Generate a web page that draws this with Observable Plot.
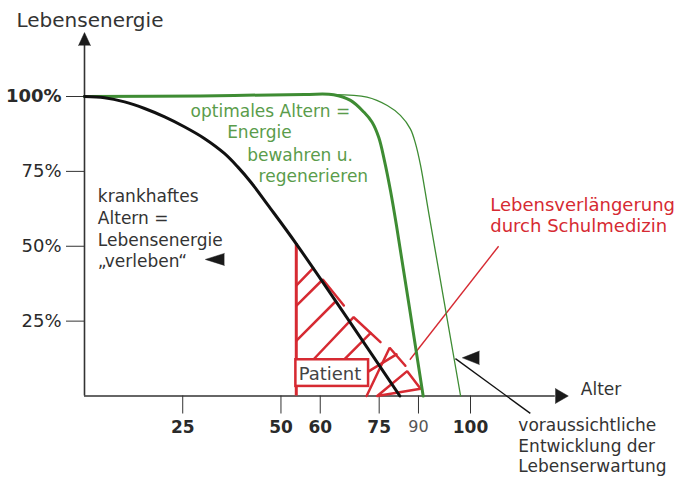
<!DOCTYPE html>
<html><head><meta charset="utf-8">
<script src="https://cdn.jsdelivr.net/npm/d3@7"></script>
<script src="https://cdn.jsdelivr.net/npm/@observablehq/plot@0.6"></script>
<style>body{margin:0;background:#fff;} svg{font-family:"DejaVu Sans",sans-serif;}</style>
</head><body><div id="chart"></div>
<script>
// ---- data (age in years, Lebensenergie in %) ----
const blackAge    = [0, 5.1, 10.2, 15.3, 20.4, 25.4, 30.5, 35.6, 39.0, 42.4, 46.6, 53.9, 82.9];
const blackEnergy = [100, 99.6, 98.2, 96.0, 93.2, 89.9, 86.0, 81.0, 76.5, 71.3, 63.9, 50.8, 0];

const greenAge    = [0, 29.5, 56.0, 63.4, 67.7, 71.1, 73.2, 74.9, 77.0, 79.3, 81.6, 90.9];
const greenEnergy = [100, 100.2, 100.7, 100.6, 98.7, 94.8, 91.4, 86.3, 78.6, 68.6, 56.9, 0];

const outlookAge    = [63.4, 71.9, 78.1, 83.1, 86.9, 88.9, 90.4, 92.0, 98.1];
const outlookEnergy = [100.6, 99.8, 97.0, 93.7, 89.2, 84.2, 77.0, 60.8, 0];

const hatchId     = [1,1, 2,2,2, 3,3, 4,4,4, 5,5, 6,6,6, 7,7, 8,8,8,8];
const hatchAge    = [53.95,58.2, 53.95,60.65,66.0, 53.95,63.7, 58.2,68.5,75.5, 66.0,72.8, 71.8,79.0,85.0, 72.3,81.6, 74.5,85.7,90.4,74.5];
const hatchEnergy = [36.9,42.7, 30.2,38.9,30.2, 18.5,31.3, 12.1,26.3,18.0, 12.1,21.0, 0,16.1,10.1, 8.2,13.9, 0,8.3,2.4,0];

const patientAge = [53.9];
const patientTop = 50.9;
const patientBox = [{x1: 53.8, x2: 72.3, y1: 3.2, y2: 12.1}];

const xTicksBold  = [25, 50, 60, 75, 100];
const xTicksLight = [90];
const yTicks      = [25, 50, 75];
const yTicksBold  = [100];

// the hand-drawn age axis is not evenly spaced: these ages sit at these drawing units
const ageBreaks  = [0, 75, 90, 100];
const slotBreaks = [0, 75, 85.0, 98.24];

const axisEnds = {xEnd: 116.3, yEnd: 117.0};

const titleNote   = [{age: -17.3, energy: 123.1, label: "Lebensenergie"}];
const sickNote    = [{age: 3.4, energy: 43.0, label: "krankhaftes\nAltern =\nLebensenergie\n„verleben“"}];
const greenNotes  = [
  {age: 27.0, energy: 93.1, label: "optimales Altern ="},
  {age: 36.3, energy: 86.0, label: "Energie"},
  {age: 41.4, energy: 78.6, label: "bewahren u."},
  {age: 44.3, energy: 71.4, label: "regenerieren"}
];
const redNote     = [{age: 103.8, energy: 54.7, label: "Lebensverlängerung\ndurch Schulmedizin"}];
const alterNote   = [{age: 121.2, energy: 0.2, label: "Alter"}];
const outlookNote = [{age: 109.2, energy: -25.4, label: "voraussichtliche\nEntwicklung der\nLebenserwartung"}];
const patientNote = [{age: 54.5, energy: 5.4, label: "Patient"}];

const redPointer   = [{x1: 86.7, y1: 12.1, x2: 105.4, y2: 50.0}];
const blackPointer = [{x1: 97.1, y1: 12.5, x2: 111.5, y2: -5.8}];

const arrowHeads = [
  {age: 0, energy: 117.0, rot: 0, len: 13, r: 6},
  {age: 116.3, energy: 0, rot: 90, len: 13, r: 7.5},
  {age: 35.6, energy: 45.6, rot: -90, len: 19, r: 6},
  {age: 101.7, energy: 12.75, rot: -90, len: 17, r: 6.7}
];

// ---- build tables ----
const rows = (xs, ys) => xs.map((a, i) => ({age: a, energy: ys[i]}));
const blackCurve = rows(blackAge, blackEnergy);
const greenCurve = rows(greenAge, greenEnergy);
const outlookCurve = rows(outlookAge, outlookEnergy);
const hatch = hatchAge.map((a, i) => ({age: a, energy: hatchEnergy[i], id: hatchId[i]}));
const ageToSlot = d3.scaleLinear().domain(ageBreaks).range(slotBreaks);

const RED = "#d62a32", GREEN = "#3e8c33", GREENTXT = "#5a9c4b", INK = "#2a2a2a";
const textBase = {x: "age", y: "energy", text: "label", textAnchor: "start", lineAnchor: "bottom"};

const chart = Plot.plot({
  width: 676, height: 481,
  marginLeft: 84, marginRight: 206, marginTop: 96, marginBottom: 85.5,
  style: {background: "#fff", color: INK, fontFamily: "DejaVu Sans"},
  x: {type: "linear", transform: d => ageToSlot(d), domain: [0, slotBreaks[3]], range: [84, 470]},
  y: {domain: [0, 100]},
  marks: [
    Plot.ruleY([0], {x1: 0, x2: axisEnds.xEnd, stroke: "#333", strokeWidth: 1.6}),
    Plot.ruleX([0], {y1: 0, y2: axisEnds.yEnd, stroke: "#333", strokeWidth: 1.6}),
    Plot.axisY(yTicks, {tickSize: 18, tickPadding: 5, tickFormat: d => d + "%", fontSize: 18, label: null, stroke: "#333"}),
    Plot.axisY(yTicksBold, {tickSize: 18, tickPadding: 5, tickFormat: d => d + "%", fontSize: 18, fontWeight: "bold", label: null, stroke: "#333"}),
    Plot.axisX(xTicksBold, {tickSize: 18, tickPadding: 6.5, fontSize: 17, fontWeight: "bold", label: null, stroke: "#333"}),
    Plot.axisX(xTicksLight, {tickSize: 18, tickPadding: 6.5, fontSize: 16, fill: "#555", label: null, stroke: "#333"}),
    Plot.ruleX(patientAge, {y1: 0, y2: patientTop, stroke: RED, strokeWidth: 3}),
    Plot.line(hatch, {x: "age", y: "energy", z: "id", stroke: RED, strokeWidth: 2.5, strokeLinejoin: "miter"}),
    Plot.rect(patientBox, {x1: "x1", x2: "x2", y1: "y1", y2: "y2", fill: "white", stroke: RED, strokeWidth: 2.5}),
    Plot.text(patientNote, {...textBase, fontSize: 18, fill: "#444"}),
    Plot.link(redPointer, {x1: "x1", y1: "y1", x2: "x2", y2: "y2", stroke: RED, strokeWidth: 1.4}),
    Plot.line(outlookCurve, {x: "age", y: "energy", stroke: GREEN, strokeWidth: 1.3, curve: "catmull-rom"}),
    Plot.line(greenCurve, {x: "age", y: "energy", stroke: GREEN, strokeWidth: 3, curve: "catmull-rom"}),
    Plot.line(blackCurve, {x: "age", y: "energy", stroke: "#111", strokeWidth: 3, curve: "catmull-rom"}),
    Plot.link(blackPointer, {x1: "x1", y1: "y1", x2: "x2", y2: "y2", stroke: "#111", strokeWidth: 1.4}),
    ...arrowHeads.map(a => Plot.vector([a], {x: "age", y: "energy", rotate: a.rot, length: a.len, r: a.r, shape: "spike", anchor: "start", fill: "#1a1a1a", stroke: "#1a1a1a", strokeWidth: 0.5})),
    Plot.text(titleNote, {...textBase, fontSize: 20, fill: "#333"}),
    Plot.text(sickNote, {...textBase, fontSize: 17, lineHeight: 1.276, fill: "#333"}),
    Plot.text(greenNotes, {...textBase, fontSize: 17, fill: GREENTXT}),
    Plot.text(redNote, {...textBase, fontSize: 18, lineHeight: 1.2, fill: RED}),
    Plot.text(alterNote, {...textBase, fontSize: 17, fill: "#333"}),
    Plot.text(outlookNote, {...textBase, fontSize: 17, lineHeight: 1.206, fill: "#333"})
  ]
});
document.getElementById("chart").appendChild(chart);
</script>
</body></html>
